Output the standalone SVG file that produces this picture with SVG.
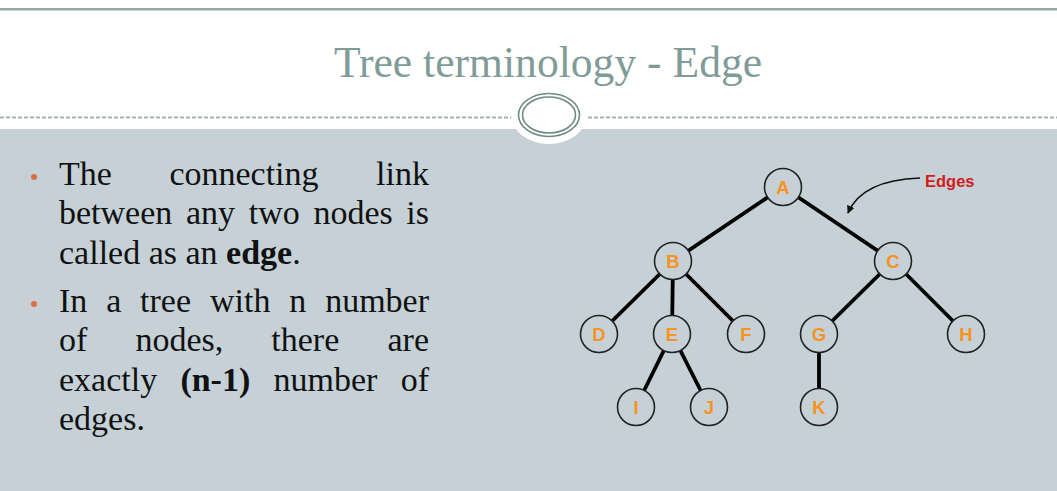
<svg xmlns="http://www.w3.org/2000/svg" width="1057" height="491" viewBox="0 0 1057 491">
  <style>
    .title { font-family: "Liberation Serif", "DejaVu Serif", serif; font-size: 43.6px; fill: #7f9c98; }
    .body { font-family: "Liberation Serif", "DejaVu Serif", serif; font-size: 34px; fill: #111; }
    .b { font-weight: bold; }
    .bullet { fill: #d96f48; }
    .node circle { fill: #c5d1d6; stroke: #222; stroke-width: 1.6; }
    .node text { font-family: "Liberation Sans", Arial, sans-serif; font-size: 18.5px; font-weight: bold; fill: #f7931e; text-anchor: middle; }
    .edge { stroke: #000; stroke-width: 3.8; stroke-linecap: butt; }
    .label { font-family: "Liberation Sans", Arial, sans-serif; font-size: 16.5px; font-weight: bold; fill: #d41a1a; }
  </style>
  <defs>
    <marker id="arrow" viewBox="0 0 10 10" refX="9" refY="5" markerWidth="8" markerHeight="8" orient="auto" markerUnits="userSpaceOnUse">
      <path d="M0,0 L10,5 L0,10 z" fill="#111"/>
    </marker>
  </defs>

  <!-- page background -->
  <rect x="0" y="0" width="1057" height="491" fill="#ffffff"/>
  <rect x="0" y="129" width="1057" height="362" fill="#c5d1d6"/>

  <!-- header rules -->
  <line x1="0" y1="9" x2="1057" y2="9" stroke="#738b85" stroke-width="1.5"/>
  <line x1="0" y1="10.5" x2="1057" y2="10.5" stroke="#c9d8d4" stroke-width="1"/>
  <line x1="0" y1="117.5" x2="1057" y2="117.5" stroke="#a3b2b0" stroke-width="2" stroke-dasharray="4 2"/>

  <!-- header medallion -->
  <ellipse cx="549" cy="115" rx="38" ry="29" fill="#ffffff"/>
  <ellipse cx="549" cy="115" rx="30.5" ry="21.5" fill="none" stroke="#6e8b86" stroke-width="1.6"/>
  <ellipse cx="549" cy="115" rx="26.5" ry="18" fill="none" stroke="#6e8b86" stroke-width="1.6"/>

  <!-- title -->
  <text class="title" x="548" y="77" text-anchor="middle">Tree terminology - Edge</text>

  <!-- bullet list (justified lines placed word by word) -->
  <g id="bullets">
    <circle class="bullet" cx="34" cy="177" r="3"/>
    <text class="body" y="185">
      <tspan x="59">The</tspan><tspan x="169.4">connecting</tspan><tspan x="429" text-anchor="end">link</tspan>
    </text>
    <text class="body" y="224">
      <tspan x="59">between</tspan><tspan x="186">any</tspan><tspan x="248.7">two</tspan><tspan x="313.4">nodes</tspan><tspan x="429" text-anchor="end">is</tspan>
    </text>
    <text class="body" y="264" x="59">called as an <tspan class="b">edge</tspan>.</text>

    <circle class="bullet" cx="34" cy="304" r="3"/>
    <text class="body" y="312">
      <tspan x="59">In</tspan><tspan x="106.2">a</tspan><tspan x="140.1">tree</tspan><tspan x="210">with</tspan><tspan x="289.3">n</tspan><tspan x="429" text-anchor="end">number</tspan>
    </text>
    <text class="body" y="351">
      <tspan x="59">of</tspan><tspan x="135.4">nodes,</tspan><tspan x="271.3">there</tspan><tspan x="429" text-anchor="end">are</tspan>
    </text>
    <text class="body" y="391">
      <tspan x="59">exactly</tspan><tspan x="180.4" class="b">(n-1)</tspan><tspan x="273.5">number</tspan><tspan x="429" text-anchor="end">of</tspan>
    </text>
    <text class="body" y="430" x="59">edges.</text>
  </g>

  <!-- tree edges -->
  <g id="connectors">
    <line class="edge" x1="783" y1="187" x2="673" y2="261"/>
    <line class="edge" x1="783" y1="187" x2="893" y2="261"/>
    <line class="edge" x1="673" y1="261" x2="599" y2="334"/>
    <line class="edge" x1="673" y1="261" x2="672" y2="334"/>
    <line class="edge" x1="673" y1="261" x2="746" y2="334"/>
    <line class="edge" x1="672" y1="334" x2="636" y2="407"/>
    <line class="edge" x1="672" y1="334" x2="709" y2="407"/>
    <line class="edge" x1="893" y1="261" x2="819" y2="334"/>
    <line class="edge" x1="893" y1="261" x2="966" y2="334"/>
    <line class="edge" x1="819" y1="334" x2="819" y2="407"/>
    <path d="M920,178 Q862,180 848,213" fill="none" stroke="#111" stroke-width="1.7" marker-end="url(#arrow)"/>
  </g>

  <!-- tree nodes -->
  <g id="node-A" class="node"><circle cx="783" cy="187" r="18.5"/><text x="783" y="193.5">A</text></g>
  <g id="node-B" class="node"><circle cx="673" cy="261" r="18.5"/><text x="673" y="267.5">B</text></g>
  <g id="node-C" class="node"><circle cx="893" cy="261" r="18.5"/><text x="893" y="267.5">C</text></g>
  <g id="node-D" class="node"><circle cx="599" cy="334" r="18.5"/><text x="599" y="340.5">D</text></g>
  <g id="node-E" class="node"><circle cx="672" cy="334" r="18.5"/><text x="672" y="340.5">E</text></g>
  <g id="node-F" class="node"><circle cx="746" cy="334" r="18.5"/><text x="746" y="340.5">F</text></g>
  <g id="node-G" class="node"><circle cx="819" cy="334" r="18.5"/><text x="819" y="340.5">G</text></g>
  <g id="node-H" class="node"><circle cx="966" cy="334" r="18.5"/><text x="966" y="340.5">H</text></g>
  <g id="node-I" class="node"><circle cx="636" cy="407" r="18.5"/><text x="636" y="413.5">I</text></g>
  <g id="node-J" class="node"><circle cx="709" cy="407" r="18.5"/><text x="709" y="413.5">J</text></g>
  <g id="node-K" class="node"><circle cx="819" cy="407" r="18.5"/><text x="819" y="413.5">K</text></g>

  <!-- edge callout -->
  <g id="label-edges"><text class="label" x="925" y="187">Edges</text></g>
</svg>
